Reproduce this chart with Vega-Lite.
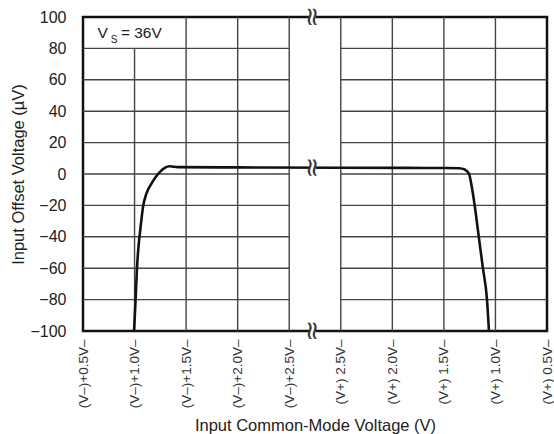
{
  "$schema": "https://vega.github.io/schema/vega-lite/v6.json",
  "width": 464,
  "height": 314,
  "autosize": {"type": "none"},
  "padding": {"left": 83, "top": 17, "right": 7, "bottom": 103},
  "background": "white",
  "config": {
    "view": {"stroke": "#111", "strokeWidth": 2.5},
    "font": "Liberation Sans"
  },
  "datasets": {
    "gridh": [
      {"x": 0, "x2": 4, "y": -80}, {"x": 5, "x2": 9, "y": -80},
      {"x": 0, "x2": 4, "y": -60}, {"x": 5, "x2": 9, "y": -60},
      {"x": 0, "x2": 4, "y": -40}, {"x": 5, "x2": 9, "y": -40},
      {"x": 0, "x2": 4, "y": -20}, {"x": 5, "x2": 9, "y": -20},
      {"x": 0, "x2": 4, "y": 0}, {"x": 5, "x2": 9, "y": 0},
      {"x": 0, "x2": 4, "y": 20}, {"x": 5, "x2": 9, "y": 20},
      {"x": 0, "x2": 4, "y": 40}, {"x": 5, "x2": 9, "y": 40},
      {"x": 0, "x2": 4, "y": 60}, {"x": 5, "x2": 9, "y": 60},
      {"x": 0, "x2": 4, "y": 80}, {"x": 5, "x2": 9, "y": 80}
    ],
    "gridv": [
      {"x": 1, "y": -100, "y2": 80},
      {"x": 2, "y": -100, "y2": 100},
      {"x": 3, "y": -100, "y2": 100},
      {"x": 4, "y": -100, "y2": 100},
      {"x": 5, "y": -100, "y2": 100},
      {"x": 6, "y": -100, "y2": 100},
      {"x": 7, "y": -100, "y2": 100},
      {"x": 8, "y": -100, "y2": 100}
    ],
    "curve": [
      {"x": 0.99, "y": -100},
      {"x": 1.02, "y": -80},
      {"x": 1.047, "y": -60},
      {"x": 1.08, "y": -45},
      {"x": 1.113, "y": -35},
      {"x": 1.164, "y": -21},
      {"x": 1.23, "y": -12.5},
      {"x": 1.33, "y": -6},
      {"x": 1.455, "y": 0},
      {"x": 1.585, "y": 3.9},
      {"x": 1.68, "y": 4.9},
      {"x": 1.84, "y": 4.4},
      {"x": 3.0, "y": 4.2},
      {"x": 5.0, "y": 4.0},
      {"x": 7.0, "y": 3.8},
      {"x": 7.3, "y": 3.7},
      {"x": 7.4, "y": 2.9},
      {"x": 7.486, "y": 0.3},
      {"x": 7.54, "y": -8},
      {"x": 7.597, "y": -20},
      {"x": 7.677, "y": -40},
      {"x": 7.757, "y": -60},
      {"x": 7.836, "y": -80},
      {"x": 7.874, "y": -100}
    ],
    "brk": [
      {"x": 4.45, "y": 100},
      {"x": 4.45, "y": 4.1},
      {"x": 4.45, "y": -100}
    ],
    "vs": [{"x": 0.279, "y": 86.9}]
  },
  "encoding": {
    "x": {
      "field": "x", "type": "quantitative",
      "scale": {"domain": [0, 9], "nice": false, "zero": false},
      "axis": {
        "values": [0, 1, 2, 3, 4, 5, 6, 7, 8, 9],
        "labelExpr": "['(V–)+0.5V–','(V–)+1.0V–','(V–)+1.5V–','(V–)+2.0V–','(V–)+2.5V–','(V+) 2.5V–','(V+) 2.0V–','(V+) 1.5V–','(V+) 1.0V–','(V+) 0.5V–'][datum.value]",
        "labelAngle": -90, "labelAlign": "right", "labelBaseline": "middle",
        "labelFontSize": 13.5, "labelColor": "#333", "labelPadding": 8,
        "labelFlush": false, "labelOverlap": false, "labelBound": false,
        "ticks": false, "domain": false, "grid": false,
        "title": "Input Common-Mode Voltage (V)",
        "titleFontSize": 16.5, "titleFontWeight": "normal", "titleColor": "#222",
        "titleY": 99, "titleBaseline": "alphabetic"
      }
    },
    "y": {
      "field": "y", "type": "quantitative",
      "scale": {"domain": [-100, 100], "nice": false, "zero": false},
      "axis": {
        "values": [-100, -80, -60, -40, -20, 0, 20, 40, 60, 80, 100],
        "labelFontSize": 16, "labelColor": "#222", "labelPadding": 17,
        "labelFlush": false, "labelOverlap": false, "labelBound": false,
        "ticks": false, "domain": false, "grid": false,
        "title": "Input Offset Voltage (µV)",
        "titleFontSize": 16.5, "titleFontWeight": "normal", "titleColor": "#222",
        "titleX": -64.5, "titleBaseline": "middle"
      }
    }
  },
  "layer": [
    {
      "data": {"name": "gridh"},
      "mark": {"type": "rule", "stroke": "#444", "strokeWidth": 1.4},
      "encoding": {"x2": {"field": "x2"}}
    },
    {
      "data": {"name": "gridv"},
      "mark": {"type": "rule", "stroke": "#444", "strokeWidth": 1.4},
      "encoding": {"y2": {"field": "y2"}}
    },
    {
      "data": {"name": "curve"},
      "mark": {"type": "line", "stroke": "#111", "strokeWidth": 2.6, "interpolate": "monotone"},
      "encoding": {}
    },
    {
      "data": {"name": "brk"},
      "mark": {"type": "point", "shape": "square", "filled": true, "fill": "white", "opacity": 1, "size": 42, "strokeWidth": 0},
      "encoding": {}
    },
    {
      "data": {"name": "brk"},
      "mark": {"type": "text", "text": "≈", "angle": 90, "font": "DejaVu Sans", "fontSize": 26, "align": "center", "baseline": "middle", "color": "#333"},
      "encoding": {}
    },
    {
      "data": {"name": "vs"},
      "mark": {"type": "text", "text": "V", "fontSize": 15.5, "align": "left", "baseline": "alphabetic", "color": "#222"},
      "encoding": {}
    },
    {
      "data": {"name": "vs"},
      "mark": {"type": "text", "text": "S", "fontSize": 10, "align": "left", "baseline": "alphabetic", "dx": 13.3, "dy": 5.7, "color": "#222"},
      "encoding": {}
    },
    {
      "data": {"name": "vs"},
      "mark": {"type": "text", "text": "= 36V", "fontSize": 15.5, "align": "left", "baseline": "alphabetic", "dx": 23.5, "color": "#222"},
      "encoding": {}
    }
  ]
}
